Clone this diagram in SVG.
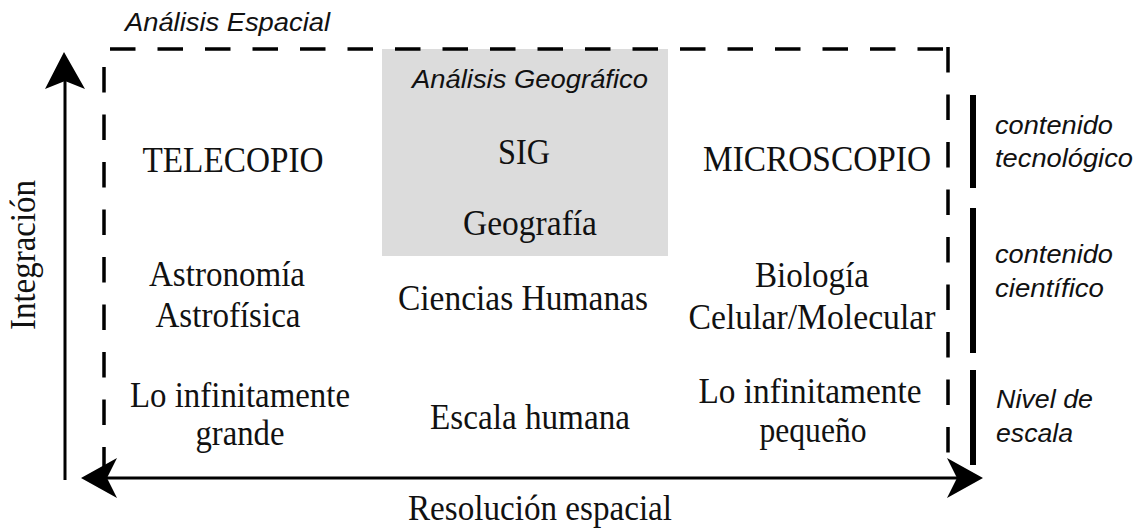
<svg xmlns="http://www.w3.org/2000/svg" width="1138" height="529" viewBox="0 0 1138 529">
<style>
.serif{font-family:"Liberation Serif","Times New Roman",serif;font-size:35px;fill:#111;text-anchor:middle}
.ital{font-family:"Liberation Sans",Arial,sans-serif;font-size:25px;font-style:italic;fill:#111}
.dash{stroke:#000;stroke-width:3.5;fill:none;stroke-dasharray:25.5 22}
.axis{stroke:#000;stroke-width:3;fill:none}
.head{fill:#000;stroke:none}
.bar{fill:#000}
</style>
<rect width="1138" height="529" fill="#fff"/>
<g id="geo-box">
<rect x="382" y="49" width="286" height="207" fill="#dcdcdc"/>
<text class="ital" x="412" y="88" textLength="236" lengthAdjust="spacingAndGlyphs">Análisis Geográfico</text>
<text class="serif" x="524" y="164" textLength="52" lengthAdjust="spacingAndGlyphs">SIG</text>
<text class="serif" x="530" y="235" textLength="134" lengthAdjust="spacingAndGlyphs">Geografía</text>
</g>
<g id="spatial-frame">
<path class="dash" d="M110,49 H948"/>
<path class="dash" d="M948,47 V462"/>
<path class="dash" d="M104,67 V472"/>
<text class="ital" x="125" y="31" textLength="205" lengthAdjust="spacingAndGlyphs">Análisis Espacial</text>
</g>
<g id="connectors">
<path class="axis" d="M65,480 V80"/>
<path class="head" d="M64,52 L85,89 L65,81 L45,89 Z"/>
<path class="axis" d="M100,478 H965"/>
<path class="head" d="M81,478 L117,458 L107,478 L117,498 Z"/>
<path class="head" d="M983,478 L947,458 L957,478 L947,498 Z"/>
</g>
<g id="axis-labels">
<text class="serif" transform="translate(35,255) rotate(-90)" x="0" y="0" textLength="150" lengthAdjust="spacingAndGlyphs">Integración</text>
<text class="serif" x="540" y="520" textLength="264" lengthAdjust="spacingAndGlyphs">Resolución espacial</text>
</g>
<g id="telecopio">
<text class="serif" x="233" y="172" textLength="181" lengthAdjust="spacingAndGlyphs">TELECOPIO</text>
<text class="serif" x="227" y="286" textLength="156" lengthAdjust="spacingAndGlyphs">Astronomía</text>
<text class="serif" x="228" y="327" textLength="145" lengthAdjust="spacingAndGlyphs">Astrofísica</text>
<text class="serif" x="240" y="407" textLength="220" lengthAdjust="spacingAndGlyphs">Lo infinitamente</text>
<text class="serif" x="240" y="445" textLength="89" lengthAdjust="spacingAndGlyphs">grande</text>
</g>
<g id="humanas">
<text class="serif" x="523" y="310" textLength="250" lengthAdjust="spacingAndGlyphs">Ciencias Humanas</text>
<text class="serif" x="530" y="429" textLength="200" lengthAdjust="spacingAndGlyphs">Escala humana</text>
</g>
<g id="microscopio">
<text class="serif" x="817" y="171" textLength="228" lengthAdjust="spacingAndGlyphs">MICROSCOPIO</text>
<text class="serif" x="812" y="287" textLength="114" lengthAdjust="spacingAndGlyphs">Biología</text>
<text class="serif" x="812" y="329" textLength="247" lengthAdjust="spacingAndGlyphs">Celular/Molecular</text>
<text class="serif" x="810" y="403" textLength="223" lengthAdjust="spacingAndGlyphs">Lo infinitamente</text>
<text class="serif" x="813" y="442" textLength="107" lengthAdjust="spacingAndGlyphs">pequeño</text>
</g>
<g id="legend-tecnologico">
<rect class="bar" x="970" y="95" width="6" height="93"/>
<text class="ital" x="995" y="134" textLength="118" lengthAdjust="spacingAndGlyphs">contenido</text>
<text class="ital" x="995" y="167" textLength="138" lengthAdjust="spacingAndGlyphs">tecnológico</text>
</g>
<g id="legend-cientifico">
<rect class="bar" x="970" y="208" width="6" height="145"/>
<text class="ital" x="995" y="263" textLength="118" lengthAdjust="spacingAndGlyphs">contenido</text>
<text class="ital" x="995" y="297" textLength="109" lengthAdjust="spacingAndGlyphs">científico</text>
</g>
<g id="legend-escala">
<rect class="bar" x="970" y="370" width="6" height="95"/>
<text class="ital" x="996" y="408" textLength="97" lengthAdjust="spacingAndGlyphs">Nivel de</text>
<text class="ital" x="996" y="442" textLength="77" lengthAdjust="spacingAndGlyphs">escala</text>
</g>
</svg>
